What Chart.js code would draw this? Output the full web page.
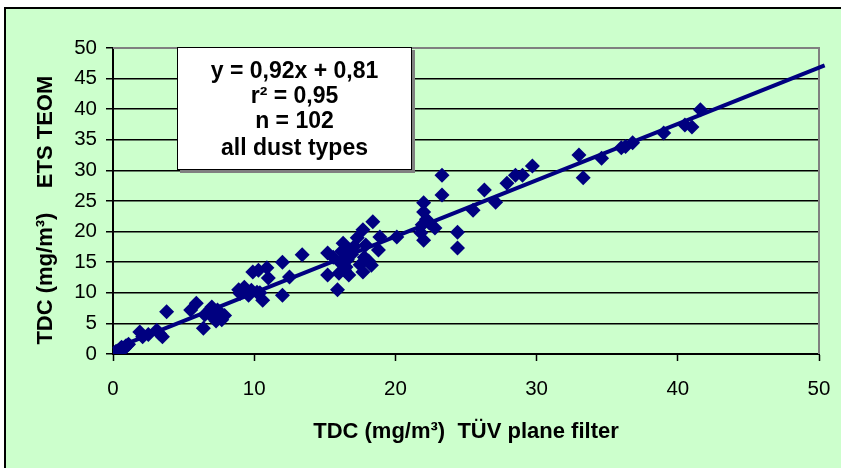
<!DOCTYPE html>
<html>
<head>
<meta charset="utf-8">
<script src="https://cdn.jsdelivr.net/npm/chart.js@4/dist/chart.umd.min.js"></script>
<style>
  html, body { margin: 0; padding: 0; background: #fff; }
  #wrap { width: 841px; height: 468px; position: relative; }
</style>
</head>
<body>
<div id="wrap"><canvas id="scatter" width="841" height="468"></canvas></div>
<script>
// TÜV plane filter (x) vs ETS TEOM (y), mg/m³
const tdcFilter = [
  0.1, 0.3, 0.5, 0.7, 0.9, 1.1, 0.2, 0.6, 1.0, 0.8,
  1.9, 2.1, 3.1, 3.5, 3.8, 5.5, 5.9, 6.4, 6.5, 7.0, 7.4, 7.7, 7.2, 8.9, 9.3, 9.6, 9.9,
  6.8, 7.5, 7.9, 6.9, 7.3, 9.0, 9.8, 10.2, 2.5, 3.3,
  10.3, 10.4, 10.6, 10.9, 11.0, 12.0, 12.0, 12.5, 13.4, 15.2, 15.2, 15.9, 16.1, 16.3,
  16.6, 16.4, 16.8, 17.3, 17.7, 17.8, 17.7, 18.3, 18.4, 18.9, 18.8, 20.1,
  16.0, 16.5, 16.9, 17.1, 16.2, 17.5, 16.7, 15.6, 17.9, 18.1,
  22.0, 22.0, 22.0, 21.9, 22.4, 22.8, 23.3, 23.3, 24.4, 24.4, 25.5, 26.3, 27.1, 22.2, 21.8,
  27.9, 28.5, 29.0, 29.7, 33.0, 33.3, 34.6, 36.0, 36.8, 39.0, 36.3,
  40.5, 41.0, 41.6
];
const tdcTeom = [
  0.2, 0.5, 0.8, 1.0, 1.3, 1.6, 0.4, 1.1, 1.4, 0.9,
  3.6, 2.8, 3.9, 2.8, 6.9, 7.2, 8.3, 4.2, 6.4, 7.7, 7.2, 5.6, 6.0, 10.5, 10.9, 9.6, 13.4,
  6.6, 6.9, 6.3, 7.3, 5.4, 9.9, 10.4, 10.1, 3.2, 3.3,
  13.7, 10.0, 8.8, 14.1, 12.4, 15.0, 9.6, 12.6, 16.2, 16.5, 12.9, 10.5, 14.9, 18.1,
  15.4, 13.7, 17.0, 19.0, 20.3, 15.8, 13.4, 14.5, 21.6, 19.1, 17.0, 19.1,
  13.2, 14.2, 16.3, 17.6, 16.8, 14.6, 12.9, 15.8, 17.8, 15.2,
  24.7, 23.2, 18.6, 21.1, 21.4, 20.6, 29.2, 26.0, 19.9, 17.3, 23.5, 26.8, 24.8, 22.0, 19.8,
  27.9, 29.2, 29.2, 30.7, 32.5, 28.8, 32.0, 33.7, 34.5, 36.1, 33.9,
  37.4, 37.1, 39.9
];

// linear trend printed in the box
const trendSlope = 0.92;
const trendIntercept = 0.81;
const trendRange = [0, 50.4];

const statsLines = ['y = 0,92x + 0,81', 'r² = 0,95', 'n = 102', 'all dust types'];
const xTitle = 'TDC (mg/m³)  TÜV plane filter';
const yTitle = 'TDC (mg/m³)    ETS TEOM   ';

const NAVY = '#000080';
const FONT = "'Liberation Sans', Arial, sans-serif";

// green sheet with black frame, gray plot border on top/right, and the stats box
const sheetPlugin = {
  id: 'sheet',
  beforeDraw(chart) {
    const { ctx, width, height } = chart;
    ctx.save();
    ctx.fillStyle = '#fff';
    ctx.fillRect(0, 0, width, height);
    ctx.fillStyle = '#CCFFCC';
    ctx.fillRect(4, 7, width - 4, height - 7);
    ctx.strokeStyle = '#000';
    ctx.lineWidth = 2;
    ctx.beginPath();
    ctx.moveTo(5, height);
    ctx.lineTo(5, 8);
    ctx.lineTo(width, 8);
    ctx.stroke();
    ctx.restore();
  },
  beforeDatasetsDraw(chart) {
    const { ctx, chartArea: a } = chart;
    ctx.save();
    ctx.strokeStyle = '#808080';
    ctx.lineWidth = 2;
    ctx.beginPath();
    ctx.moveTo(a.left, a.top);
    ctx.lineTo(a.right, a.top);
    ctx.lineTo(a.right, a.bottom);
    ctx.stroke();
    ctx.restore();
  },
  afterDatasetsDraw(chart) {
    const { ctx } = chart;
    const bx = 177, by = 47, bw = 235, bh = 123;
    ctx.save();
    ctx.fillStyle = '#808080';
    ctx.fillRect(bx + 3, by + 3, bw, bh);
    ctx.fillStyle = '#fff';
    ctx.fillRect(bx, by, bw, bh);
    ctx.strokeStyle = '#000';
    ctx.lineWidth = 1;
    ctx.strokeRect(bx + 0.5, by + 0.5, bw - 1, bh - 1);
    ctx.fillStyle = '#000';
    ctx.font = `bold 23px ${FONT}`;
    ctx.textAlign = 'center';
    ctx.textBaseline = 'middle';
    const rows = [72, 97, 122, 149];
    statsLines.forEach((t, i) => ctx.fillText(t, bx + bw / 2, rows[i]));
    ctx.restore();
  },
};

const ctx = document.getElementById('scatter').getContext('2d');
new Chart(ctx, {
  type: 'scatter',
  data: {
    datasets: [
      {
        data: tdcFilter.map((x, i) => ({ x, y: tdcTeom[i] })),
        pointStyle: 'rectRot',
        pointRadius: 7.5,
        pointHoverRadius: 7.5,
        backgroundColor: NAVY,
        borderColor: NAVY,
        borderWidth: 0,
        order: 2,
      },
      {
        type: 'line',
        data: trendRange.map(x => ({ x, y: trendSlope * x + trendIntercept })),
        borderColor: NAVY,
        borderWidth: 4,
        pointRadius: 0,
        fill: false,
        clip: false,
        order: 1,
      },
    ],
  },
  options: {
    responsive: false,
    animation: false,
    layout: { padding: { left: 0, top: 48, right: 22, bottom: 0 } },
    plugins: { legend: { display: false }, tooltip: { enabled: false } },
    scales: {
      x: {
        type: 'linear',
        min: 0,
        max: 50,
        afterFit: s => {
          s.height = 114;
          s.paddingLeft = 0;
          s.paddingRight = 0;
        },
        ticks: { stepSize: 10, color: '#000', padding: 16, font: { family: FONT, size: 20.5 } },
        grid: { drawOnChartArea: false, drawTicks: true, tickLength: 7, tickColor: '#000', tickWidth: 1.5 },
        border: { color: '#000', width: 2 },
        title: {
          display: true,
          text: xTitle,
          color: '#000',
          padding: { top: 0, bottom: 23 },
          font: { family: FONT, size: 22, weight: 'bold' },
        },
      },
      y: {
        min: 0,
        max: 50,
        afterFit: s => {
          s.width = 113;
          s.paddingTop = 0;
          s.paddingBottom = 0;
        },
        ticks: { stepSize: 5, color: '#000', padding: 9, font: { family: FONT, size: 20.5 } },
        grid: { color: '#000', lineWidth: 1.5, drawTicks: true, tickLength: 7, tickColor: '#000' },
        border: { color: '#000', width: 2 },
        title: {
          display: true,
          text: yTitle,
          color: '#000',
          padding: { top: 33, bottom: 0 },
          font: { family: FONT, size: 22, weight: 'bold' },
        },
      },
    },
  },
  plugins: [sheetPlugin],
});
</script>
</body>
</html>
